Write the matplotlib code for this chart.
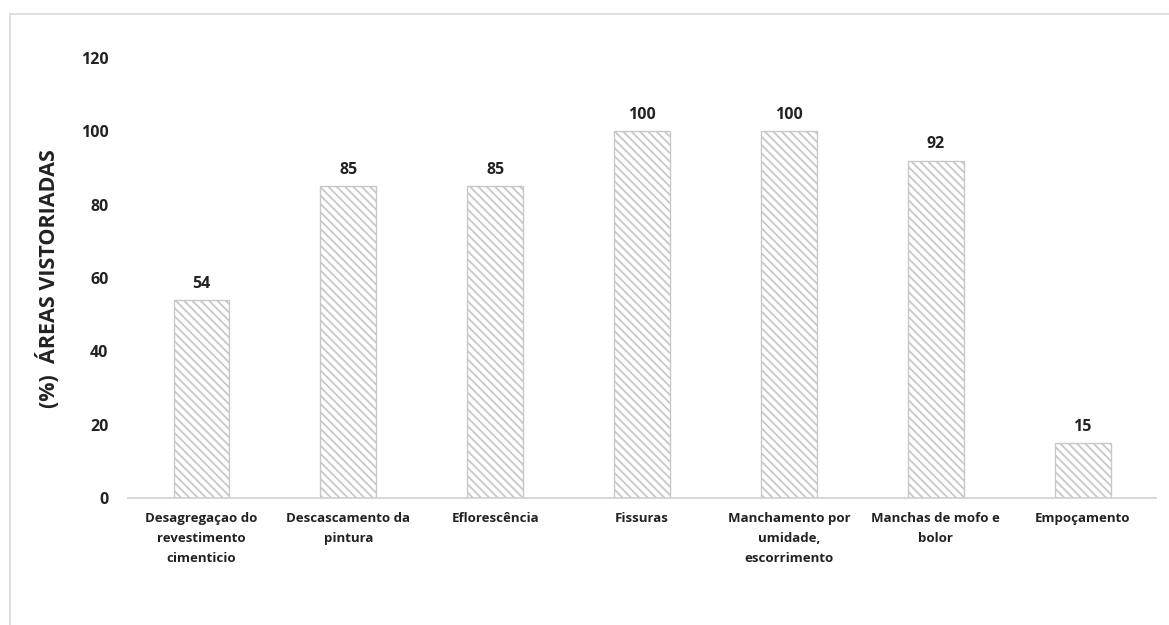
import matplotlib
matplotlib.use('Agg')
import matplotlib.pyplot as plt
from matplotlib.lines import Line2D

plt.rcParams['font.family'] = ['Open Sans', 'DejaVu Sans']
plt.rcParams['hatch.linewidth'] = 1.3
plt.rcParams['hatch.color'] = '#a0a0a0'

# data
categories = ['Desagregaçao do\nrevestimento\ncimenticio',
              'Descascamento da\npintura',
              'Eflorescência',
              'Fissuras',
              'Manchamento por\numidade,\nescorrimento',
              'Manchas de mofo e\nbolor',
              'Empoçamento']
values = [54, 85, 85, 100, 100, 92, 15]
yticks = [0, 20, 40, 60, 80, 100, 120]

fig = plt.figure(figsize=(11.69, 6.25), dpi=100)
ax = fig.add_axes([0.1095, 0.2032, 0.8795, 0.704])

x = range(len(categories))
bars = ax.bar(x, values, width=0.38, color='white', edgecolor='#c8c8c8',
              hatch='\\' * 4, linewidth=1.0)

for xi, v in zip(x, values):
    ax.annotate(str(v), (xi, v), xytext=(0, 6), textcoords='offset points',
                ha='center', va='bottom', fontsize=11.5, fontweight='bold',
                color='#222222')

ax.set_xlim(-0.5, len(categories) - 0.5)
ax.set_ylim(0, 120)
ax.set_yticks(yticks)
ax.set_yticklabels([str(t) for t in yticks], fontsize=11.5, fontweight='bold',
                   color='#222222')
ax.set_xticks(list(x))
ax.set_xticklabels(categories, fontsize=9.5, fontweight='bold', color='#222222',
                   linespacing=1.7)
ax.tick_params(axis='y', length=0, pad=14)
ax.tick_params(axis='x', length=0, pad=10)

for s in ['top', 'right', 'left']:
    ax.spines[s].set_visible(False)
ax.spines['bottom'].set_color('#d0d0d0')
ax.spines['bottom'].set_linewidth(1.2)

fig.text(0.041, 0.555, '(%)  ÁREAS VISTORIADAS', rotation=90, ha='center',
         va='center', fontsize=15.5, fontweight='bold', color='#222222')

# light frame around the chart
fig.add_artist(Line2D([10 / 1169, 1.0], [1 - 14 / 625, 1 - 14 / 625],
                      color='#d9d9d9', lw=1.2, transform=fig.transFigure))
fig.add_artist(Line2D([10 / 1169, 10 / 1169], [0.0, 1 - 14 / 625],
                      color='#d9d9d9', lw=1.2, transform=fig.transFigure))

fig.savefig('out.png', dpi=100, facecolor='white')
